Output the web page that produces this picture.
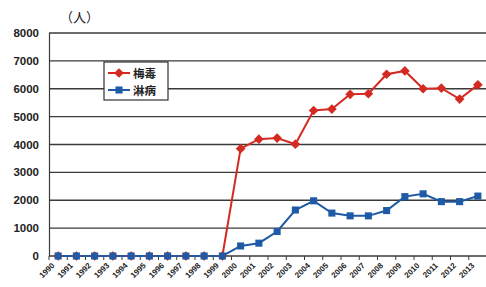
<!DOCTYPE html>
<html>
<head>
<meta charset="utf-8">
<script src="https://cdn.jsdelivr.net/npm/d3@7"></script>
<style>
  body { margin: 0; background: #fff; }
  svg { display: block; font-family: "Liberation Sans", Arial, sans-serif; }
</style>
</head>
<body>
<script>
// DATA
const years = ['1990', '1991', '1992', '1993', '1994', '1995', '1996', '1997', '1998', '1999',
  '2000', '2001', '2002', '2003', '2004', '2005', '2006', '2007', '2008', '2009',
  '2010', '2011', '2012', '2013'];
const syphilis = [0, 0, 0, 0, 0, 0, 0, 0, 0, 0,
  3850, 4190, 4230, 4010, 5220, 5270, 5800, 5820, 6520, 6640,
  6000, 6020, 5630, 6140];
const gonorrhea = [0, 0, 0, 0, 0, 0, 0, 0, 0, 0,
  360, 460, 880, 1650, 1980, 1540, 1440, 1440, 1630, 2130,
  2230, 1950, 1950, 2150];
const yTicks = [0, 1000, 2000, 3000, 4000, 5000, 6000, 7000, 8000];
const seriesNames = ['梅毒', '淋病'];

const width = 486;
const height = 287;
const margin = { left: 49, right: -1, top: 33, bottom: 31 };

const svg = d3
  .select('body')
  .append('svg')
  .attr('width', width)
  .attr('height', height);

const x = d3
  .scaleBand()
  .domain(years)
  .range([margin.left, width - margin.right]);

const y = d3
  .scaleLinear()
  .domain([0, 8000])
  .range([height - margin.bottom, margin.top]);

const xc = (d) => x(d) + x.bandwidth() / 2;

// GRID
svg
  .append('g')
  .selectAll('line')
  .data(yTicks.slice(1))
  .join('line')
  .attr('x1', margin.left)
  .attr('x2', width)
  .attr('y1', (d) => y(d))
  .attr('y2', (d) => y(d))
  .attr('stroke', '#3a3a3a')
  .attr('stroke-width', 1.3);

// Y AXIS
svg
  .append('line')
  .attr('x1', margin.left + 0.5)
  .attr('x2', margin.left + 0.5)
  .attr('y1', y(8000))
  .attr('y2', y(0))
  .attr('stroke', '#3a3a3a')
  .attr('stroke-width', 1.2);

svg
  .append('g')
  .selectAll('text')
  .data(yTicks)
  .join('text')
  .attr('x', 39)
  .attr('y', (d) => y(d) + 4)
  .attr('text-anchor', 'end')
  .attr('font-size', 11.5)
  .attr('font-weight', 'bold')
  .attr('fill', '#222')
  .text((d) => d);

svg
  .append('text')
  .attr('x', 60)
  .attr('y', 22)
  .attr('font-family', '"Noto Sans CJK JP", sans-serif')
  .attr('font-size', 13)
  .attr('fill', '#222')
  .text('（人）');

// X AXIS
svg
  .append('line')
  .attr('x1', margin.left)
  .attr('x2', width)
  .attr('y1', y(0))
  .attr('y2', y(0))
  .attr('stroke', '#3a3a3a')
  .attr('stroke-width', 1.3);

svg
  .append('g')
  .selectAll('line')
  .data(years)
  .join('line')
  .attr('x1', (d) => x(d))
  .attr('x2', (d) => x(d))
  .attr('y1', y(0))
  .attr('y2', y(0) + 4)
  .attr('stroke', '#3a3a3a');

svg
  .append('g')
  .selectAll('text')
  .data(years)
  .join('text')
  .attr('transform', (d) => `translate(${xc(d) - 3}, ${y(0) + 10}) rotate(-45)`)
  .attr('text-anchor', 'end')
  .attr('font-size', 8)
  .attr('font-weight', 'bold')
  .attr('fill', '#222')
  .text((d) => d);

// LINES
const line = (vals) =>
  d3
    .line()
    .x((d, i) => xc(years[i]))
    .y((d) => y(d))(vals);

const colors = ['#d42a22', '#1f5aa6'];

svg
  .append('path')
  .attr('d', line(syphilis))
  .attr('fill', 'none')
  .attr('stroke', colors[0])
  .attr('stroke-width', 2);

svg
  .append('path')
  .attr('d', line(gonorrhea))
  .attr('fill', 'none')
  .attr('stroke', colors[1])
  .attr('stroke-width', 2);

// MARKERS
const diamond = d3.symbol().type(d3.symbolDiamond2).size(60);
const square = d3.symbol().type(d3.symbolSquare).size(50);

svg
  .append('g')
  .selectAll('path')
  .data(syphilis)
  .join('path')
  .attr('d', diamond)
  .attr('transform', (d, i) => `translate(${xc(years[i])}, ${y(d)})`)
  .attr('fill', colors[0]);

svg
  .append('g')
  .selectAll('path')
  .data(gonorrhea)
  .join('path')
  .attr('d', square)
  .attr('transform', (d, i) => `translate(${xc(years[i])}, ${y(d)})`)
  .attr('fill', colors[1]);

// LEGEND
const legend = svg.append('g').attr('transform', 'translate(104, 62)');
legend
  .append('rect')
  .attr('width', 64)
  .attr('height', 38)
  .attr('fill', '#fff')
  .attr('stroke', '#333')
  .attr('stroke-width', 1.2);

seriesNames.forEach((name, i) => {
  const row = legend.append('g').attr('transform', `translate(0, ${11 + i * 17})`);
  row
    .append('line')
    .attr('x1', 4)
    .attr('x2', 26)
    .attr('stroke', colors[i])
    .attr('stroke-width', 2);
  row
    .append('path')
    .attr('d', i === 0 ? diamond : square)
    .attr('transform', 'translate(15, 0)')
    .attr('fill', colors[i]);
  row
    .append('text')
    .attr('x', 29)
    .attr('y', 4.5)
    .attr('font-family', '"Noto Sans CJK JP", sans-serif')
    .attr('font-size', 11.5)
    .attr('font-weight', 'bold')
    .attr('fill', '#222')
    .text(name);
});
</script>
</body>
</html>
